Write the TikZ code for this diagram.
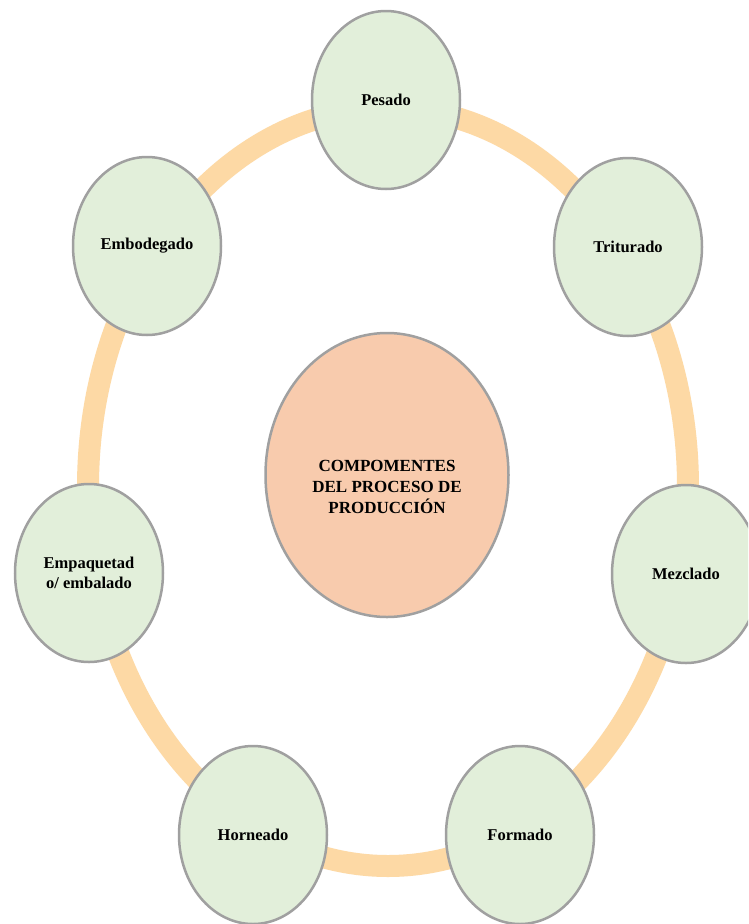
\documentclass[tikz,border=0pt]{standalone}
\usepackage{fontspec}
\setmainfont{Liberation Serif}
\usetikzlibrary{shapes.geometric}
\definecolor{ringc}{RGB}{253,217,165}
\definecolor{stagegreen}{RGB}{226,239,218}
\definecolor{hubfill}{RGB}{248,203,173}
\definecolor{edgegray}{RGB}{160,160,160}
\begin{document}
\begin{tikzpicture}[x=1pt,y=-1pt,
  stage/.style={ellipse,draw=edgegray,line width=2.5pt,fill=stagegreen,
    minimum width=148pt,minimum height=178pt,inner sep=0pt,align=center,
    font=\fontsize{16.5}{20}\selectfont\bfseries},
  hub/.style={ellipse,draw=edgegray,line width=2.5pt,fill=hubfill,
    minimum width=243pt,minimum height=284pt,inner sep=0pt,align=center,
    font=\fontsize{17}{21}\selectfont\bfseries},
  ring/.style={draw=ringc,line width=22pt}]
\useasboundingbox (0,0) rectangle (748,924);
\clip (0,0) rectangle (748,924);
\fill[white] (0,0) rectangle (748,924);
\coordinate (rc) at (388,487);
\draw[ring] (rc) ellipse [x radius=300pt, y radius=379pt];
\node[stage] (pes) at (386,100) {Pesado};
\node[stage] (tri) at (628,247) {Triturado};
\node[stage] (mez) at (686,574) {Mezclado};
\node[stage] (for) at (520,835) {Formado};
\node[stage] (hor) at (253,835) {Horneado};
\node[stage] (emp) at (89,573) {Empaquetad\\o/ embalado};
\node[stage] (emb) at (147,246) {Embodegado};
\node[hub] (hub) at (387,475) {\rule{0pt}{35pt}COMPOMENTES\\DEL PROCESO DE\\PRODUCCIÓN};
\end{tikzpicture}
\end{document}
